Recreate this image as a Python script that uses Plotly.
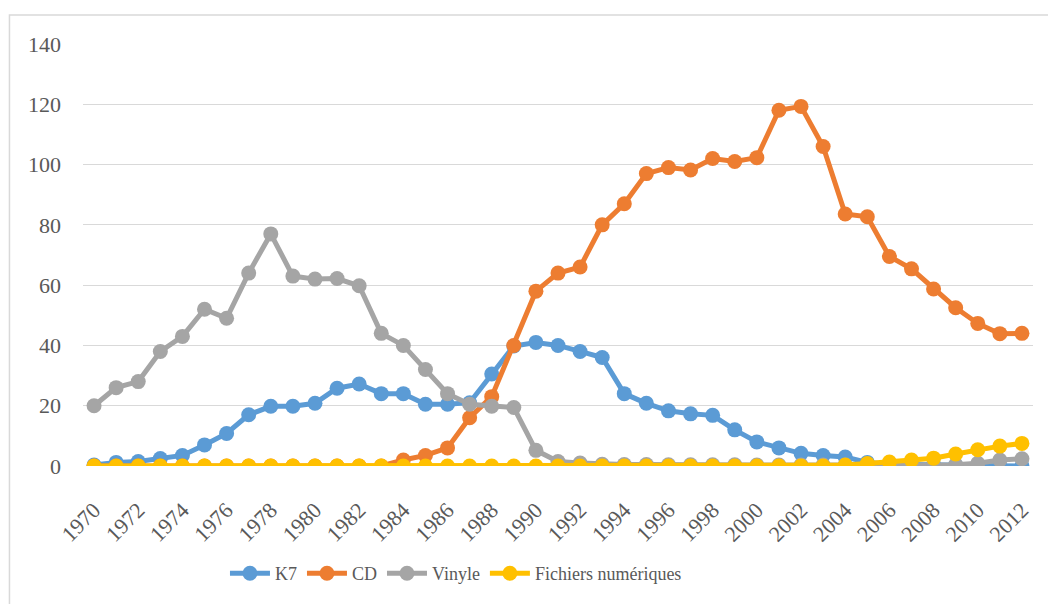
import plotly.graph_objects as go

years = list(range(1970, 2013))

k7 = [0.3, 1.2, 1.5, 2.5, 3.5, 7, 10.8, 17, 19.8, 19.8, 20.8, 25.8, 27.2, 24, 24,
      20.5, 20.5, 21, 30.5, 39.8, 41, 40, 38, 36, 24, 20.8, 18.3, 17.3, 16.8, 12,
      8, 6, 4.2, 3.5, 3, 1.2, 0.6, 0.5, 0.4, 0.3, 0, 0, 0]
cd = [0, 0, 0, 0, 0, 0, 0, 0, 0, 0, 0, 0, 0, 0, 2, 3.5, 6, 16, 23, 40, 58, 64,
      66, 80, 87, 97, 99, 98.2, 102, 101, 102.3, 118, 119.3, 106, 83.6, 82.7,
      69.5, 65.4, 58.7, 52.5, 47.3, 43.9, 44]
vinyle = [20, 26, 28, 38, 43, 52, 49, 64, 77, 63, 62, 62.2, 59.8, 44, 40, 32, 24,
          20.5, 19.8, 19.4, 5.2, 1.5, 1, 0.6, 0.5, 0.5, 0.4, 0.4, 0.4, 0.4, 0.3,
          0.3, 0.3, 0.3, 0.3, 0.3, 0.3, 0.3, 0.3, 0.4, 0.9, 2, 2.4]
fichiers = [0] * 34 + [0.3, 0.8, 1.3, 2, 2.6, 4, 5.4, 6.6, 7.5]

series = [
    ("K7", k7, "#5B9BD5"),
    ("CD", cd, "#ED7D31"),
    ("Vinyle", vinyle, "#A5A5A5"),
    ("Fichiers numériques", fichiers, "#FFC000"),
]

fig = go.Figure()
for name, vals, color in series:
    fig.add_trace(go.Scatter(
        x=years, y=vals, name=name, mode="lines+markers",
        line=dict(color=color, width=5),
        marker=dict(color=color, size=15),
    ))

# the page body has an 8px margin, so margins are shifted by 8px
fig.update_layout(
    width=1056, height=604,
    margin=dict(l=75, r=31, t=36, b=146),
    paper_bgcolor="white", plot_bgcolor="white",
    font=dict(family="Liberation Serif, Times New Roman, serif", size=22, color="#595959"),
    showlegend=True,
    legend=dict(orientation="h", x=0.3926, xanchor="center", y=-0.255, yanchor="middle",
                font=dict(size=18, color="#595959"), itemwidth=40, tracegroupgap=0),
    xaxis=dict(range=[1969.5, 2012.5], tickmode="array", tickvals=years[::2],
               ticktext=[str(y) for y in years[::2]], tickangle=-45,
               showgrid=False, zeroline=False, showline=False, ticks="",
               ticklabelstandoff=26),
    yaxis=dict(range=[0, 140], dtick=20, showgrid=True, gridcolor="#D9D9D9",
               gridwidth=1, zeroline=False, showline=False, ticks="", ticklabelstandoff=21),
    shapes=[dict(type="rect", xref="paper", yref="paper",
                 x0=-0.0774, x1=1.05, y0=-0.4, y1=1.0687,
                 line=dict(color="#D9D9D9", width=1.5), layer="below")],
)

fig.write_html("out.html")
